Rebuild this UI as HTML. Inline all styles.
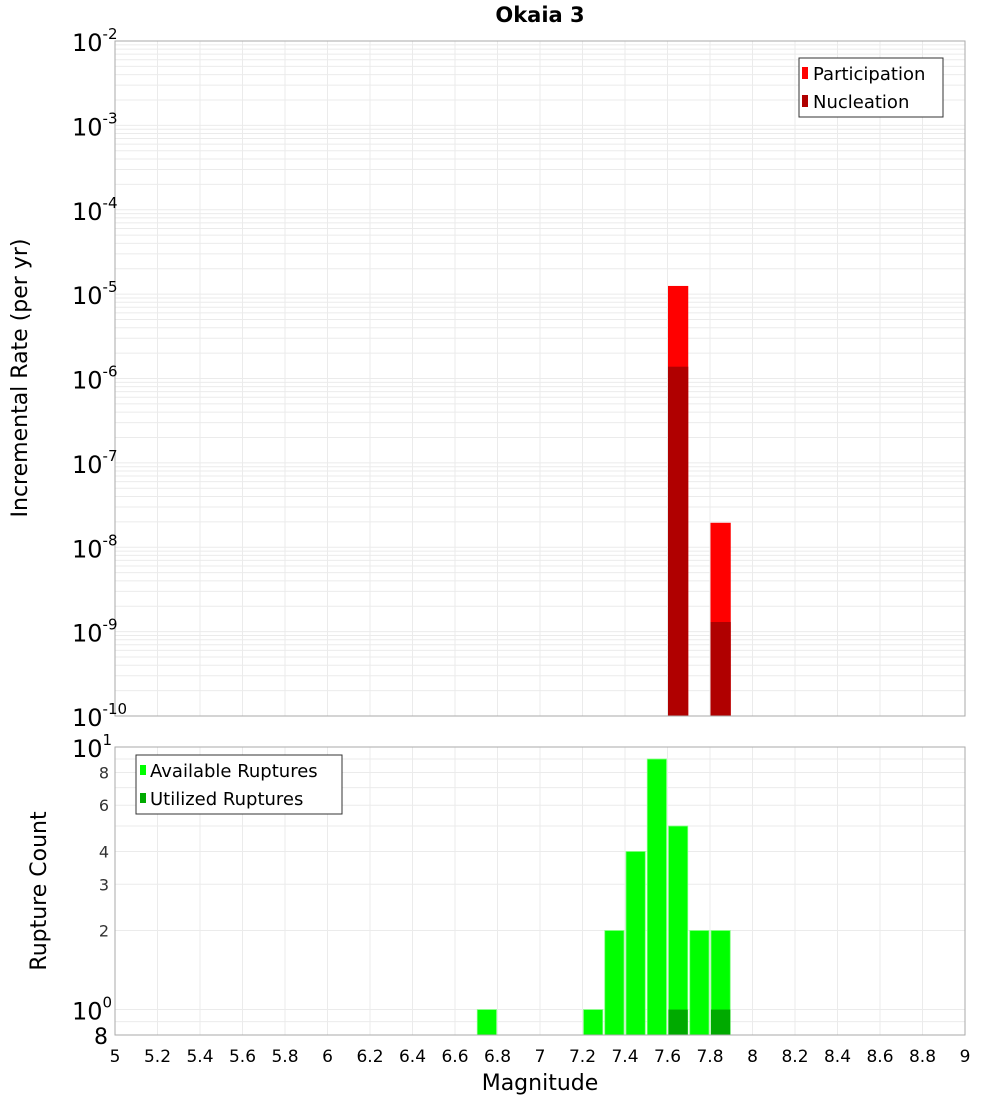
<!DOCTYPE html>
<html><head><meta charset="utf-8"><style>
body{margin:0;background:#fff;}
svg{font-family:"DejaVu Sans","Liberation Sans",sans-serif;}
</style></head><body>
<svg id="c" width="1000" height="1100" xmlns="http://www.w3.org/2000/svg">
<text x="540" y="22" text-anchor="middle" font-size="21" font-weight="bold">Okaia 3</text>
<text transform="translate(27,378) rotate(-90)" text-anchor="middle" font-size="22">Incremental Rate (per yr)</text>
<text transform="translate(46,891) rotate(-90)" text-anchor="middle" font-size="22">Rupture Count</text>
<text x="540" y="1090" text-anchor="middle" font-size="22">Magnitude</text>
<g id="g"></g>
</svg>
<script>
const mags=[6.75,7.25,7.35,7.45,7.55,7.65,7.75,7.85];
const available=[1,1,2,4,9,5,2,2];
const utilized=[0,0,0,0,0,1,0,1];
const rateMags=[7.65,7.85];
const participation=[1.25e-5,1.95e-8];
const nucleation=[1.38e-6,1.3e-9];
const xTicks=[5,5.2,5.4,5.6,5.8,6,6.2,6.4,6.6,6.8,7,7.2,7.4,7.6,7.8,8,8.2,8.4,8.6,8.8,9];
const topExps=[-2,-3,-4,-5,-6,-7,-8,-9,-10];
const botTicks=[8,6,4,3,2];

const NS="http://www.w3.org/2000/svg";
const g=document.getElementById('g');
function mk(t,a,name,txt){const e=document.createElementNS(NS,t);for(const k in a)e.setAttribute(k,a[k]);


if(txt!==undefined)e.textContent=txt;g.appendChild(e);return e;}
const X0=115,X1=965;
const x=m=>X0+(m-5)/4*(X1-X0);
const T0=41,T1=716;
const yTop=v=>T0+(-2-Math.log10(v))/8*(T1-T0);
const B0=747,B1=1035,bMin=Math.log10(0.8),bMax=1;
const yBot=v=>B0+(bMax-Math.log10(v))/(bMax-bMin)*(B1-B0);

// top grid
for(let e=-10;e<-2;e++)for(let k=1;k<10;k++){const y=yTop(k*Math.pow(10,e));
mk('line',{x1:X0,x2:X1,y1:y,y2:y,stroke:'#ebebeb','stroke-width':1},'top-grid-h');}
for(const t of xTicks){mk('line',{x1:x(t),x2:x(t),y1:T0,y2:T1,stroke:'#ebebeb'},'top-grid-v');
 mk('line',{x1:x(t),x2:x(t),y1:B0,y2:B1,stroke:'#ebebeb'},'bottom-grid-v');}
// bottom grid
for(const v of [0.8,0.9,1,2,3,4,5,6,7,8,9,10]){const y=yBot(v);
 mk('line',{x1:X0,x2:X1,y1:y,y2:y,stroke:'#ebebeb'},'bottom-grid-h');}
// top bars
const bw=0.1*(X1-X0)/4;
rateMags.forEach((m,i)=>{
 mk('rect',{x:x(m)-bw/2+0.5,y:yTop(participation[i]),width:bw-1,height:T1-yTop(participation[i]),fill:'#ff0000'},'participation-bar');
 mk('rect',{x:x(m)-bw/2+0.5,y:yTop(nucleation[i]),width:bw-1,height:T1-yTop(nucleation[i]),fill:'#b00000'},'nucleation-bar');
});
// bottom bars
mags.forEach((m,i)=>{
 const y=yBot(available[i]);
 mk('rect',{x:x(m)-bw/2+1,y:y,width:bw-2,height:B1-y,fill:'#00ff00',stroke:'#80ff80','stroke-width':0.8},'available-bar');
 if(utilized[i]>0){const yu=yBot(utilized[i]);
 mk('rect',{x:x(m)-bw/2+1,y:yu,width:bw-2,height:B1-yu,fill:'#00aa00'},'utilized-bar');}
});
// frames
mk('rect',{x:X0,y:T0,width:X1-X0,height:T1-T0,fill:'none',stroke:'#aaa'},'top-plot-frame');
mk('rect',{x:X0,y:B0,width:X1-X0,height:B1-B0,fill:'none',stroke:'#aaa'},'bottom-plot-frame');
// top y labels
for(const e of topExps){const y=yTop(Math.pow(10,e));
 const t=mk('text',{x:72,y:y+10,'font-size':24},'top-y-tick-label');
 t.textContent='10';
 const s=document.createElementNS(NS,'tspan');s.setAttribute('dy',-12);s.setAttribute('font-size',15);s.textContent=String(e).replace('-','-');
 t.appendChild(s);}
// bottom y labels
[[10,'1'],[1,'0']].forEach(([v,ex])=>{const y=yBot(v);
 const t=mk('text',{x:72,y:y+10,'font-size':24},'bottom-y-tick-label');t.textContent='10';
 const s=document.createElementNS(NS,'tspan');s.setAttribute('dy',-12);s.setAttribute('font-size',15);s.textContent=ex;t.appendChild(s);});
for(const v of botTicks){mk('text',{x:109,y:yBot(v)+6,'font-size':16,'text-anchor':'end',fill:'#333'},'bottom-y-tick-label',String(v));}
mk('text',{x:108,y:1044,'font-size':22,'text-anchor':'end'},'bottom-y-tick-label','8');
// x labels
for(const t of xTicks){mk('text',{x:x(t),y:1062,'font-size':17,'text-anchor':'middle'},'x-tick-label',String(t));}
// legends
mk('rect',{x:799,y:58,width:144,height:59,fill:'#fff',stroke:'#333'},'rate-legend');
mk('rect',{x:802,y:67,width:6,height:12,fill:'#ff0000'},'legend-participation-swatch');
mk('text',{x:813,y:80,'font-size':18},'legend-participation','Participation');
mk('rect',{x:802,y:95,width:6,height:12,fill:'#b00000'},'legend-nucleation-swatch');
mk('text',{x:813,y:108,'font-size':18},'legend-nucleation','Nucleation');
mk('rect',{x:136,y:755,width:206,height:59,fill:'#fff',stroke:'#333'},'count-legend');
mk('rect',{x:140,y:765,width:6,height:10,fill:'#00ff00'},'legend-available-swatch');
mk('text',{x:150,y:777,'font-size':18},'legend-available','Available Ruptures');
mk('rect',{x:140,y:793,width:6,height:10,fill:'#00aa00'},'legend-utilized-swatch');
mk('text',{x:150,y:805,'font-size':18},'legend-utilized','Utilized Ruptures');
</script>
</body></html>
